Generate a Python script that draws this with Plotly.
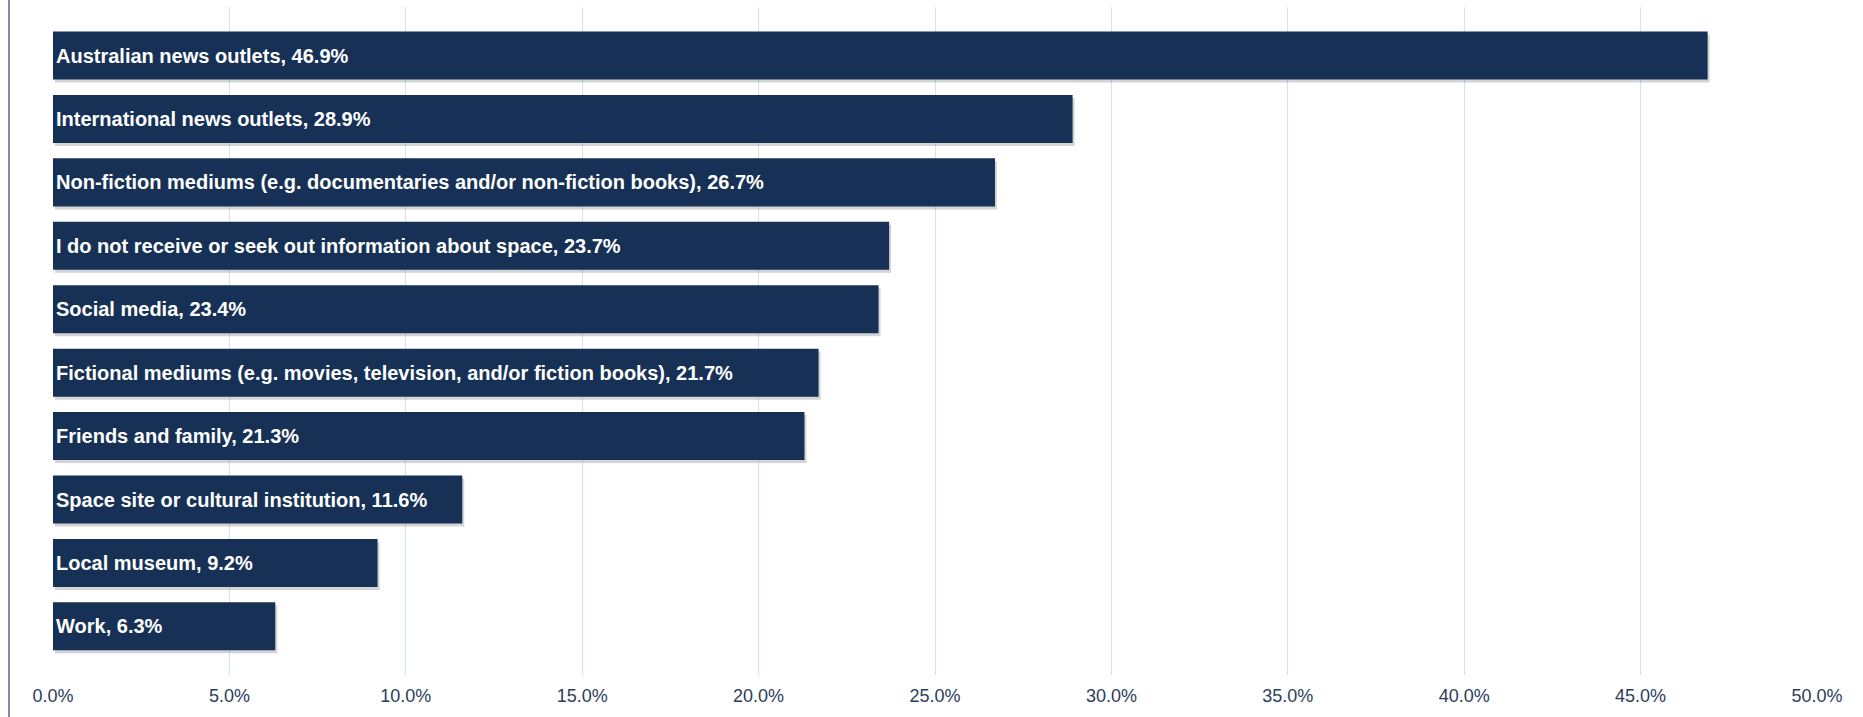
import plotly.graph_objects as go

# Sources of information about space (share of respondents, %)
categories = [
    "Australian news outlets",
    "International news outlets",
    "Non-fiction mediums (e.g. documentaries and/or non-fiction books)",
    "I do not receive or seek out information about space",
    "Social media",
    "Fictional mediums (e.g. movies, television, and/or fiction books)",
    "Friends and family",
    "Space site or cultural institution",
    "Local museum",
    "Work",
]
values = [46.9, 28.9, 26.7, 23.7, 23.4, 21.7, 21.3, 11.6, 9.2, 6.3]
tick_values = [0, 5, 10, 15, 20, 25, 30, 35, 40, 45, 50]
tick_labels = [f"{t:.1f}%" for t in tick_values]

labels = [f"{c}, {v:.1f}%" for c, v in zip(categories, values)]

BAR_COLOR = "#163155"
GRID_COLOR = "#d6e1ef"
TICK_COLOR = "#2c3d5b"
FONT = "Liberation Sans, Arial, Helvetica, sans-serif"

W, H = 1863, 717
M_L, M_R, M_T, M_B = 53, 46, 7, 42
plot_w = W - M_L - M_R
plot_h = H - M_T - M_B

bar_w = 0.757
pitch_px = 63.43
shadow_dy = 3 / pitch_px      # soft drop shadow, a few pixels down
shadow_dx = 2 / (plot_w / 50)  # and a little to the right

fig = go.Figure()

# drop shadow behind each bar
fig.add_trace(go.Bar(
    x=values,
    y=categories,
    orientation="h",
    base=shadow_dx,
    width=bar_w,
    offset=-bar_w / 2 + shadow_dy,
    marker=dict(color="rgba(60,60,60,0.22)", line=dict(width=0)),
    hoverinfo="skip",
    showlegend=False,
))

fig.add_trace(go.Bar(
    x=values,
    y=categories,
    orientation="h",
    width=bar_w,
    offset=-bar_w / 2,
    marker=dict(color=BAR_COLOR, line=dict(width=0)),
    text=labels,
    textposition="inside",
    insidetextanchor="start",
    constraintext="none",
    textfont=dict(family=FONT, size=20, color="white", weight="bold"),
    showlegend=False,
))

fig.update_layout(
    width=W,
    height=H,
    margin=dict(l=M_L, r=M_R, t=M_T, b=M_B, pad=0),
    paper_bgcolor="white",
    plot_bgcolor="white",
    barmode="overlay",
    xaxis=dict(
        range=[0, 50],
        tickvals=tick_values,
        ticktext=tick_labels,
        showgrid=True,
        gridcolor=GRID_COLOR,
        gridwidth=1,
        zeroline=False,
        showline=False,
        ticks="outside",
        ticklen=4,
        tickcolor="rgba(0,0,0,0)",
        tickfont=dict(family=FONT, size=18, color=TICK_COLOR),
    ),
    yaxis=dict(
        type="category",
        categoryorder="array",
        categoryarray=categories,
        range=[9.767, -0.765],
        showticklabels=False,
        showgrid=False,
        zeroline=False,
        showline=False,
    ),
    shapes=[
        dict(
            type="line",
            xref="paper", yref="paper",
            x0=(9 - M_L) / plot_w, x1=(9 - M_L) / plot_w,
            y0=-M_B / plot_h, y1=1 + M_T / plot_h,
            line=dict(color="#7d8ca6", width=2),
            layer="above",
        )
    ],
)

fig.write_html("out.html")
